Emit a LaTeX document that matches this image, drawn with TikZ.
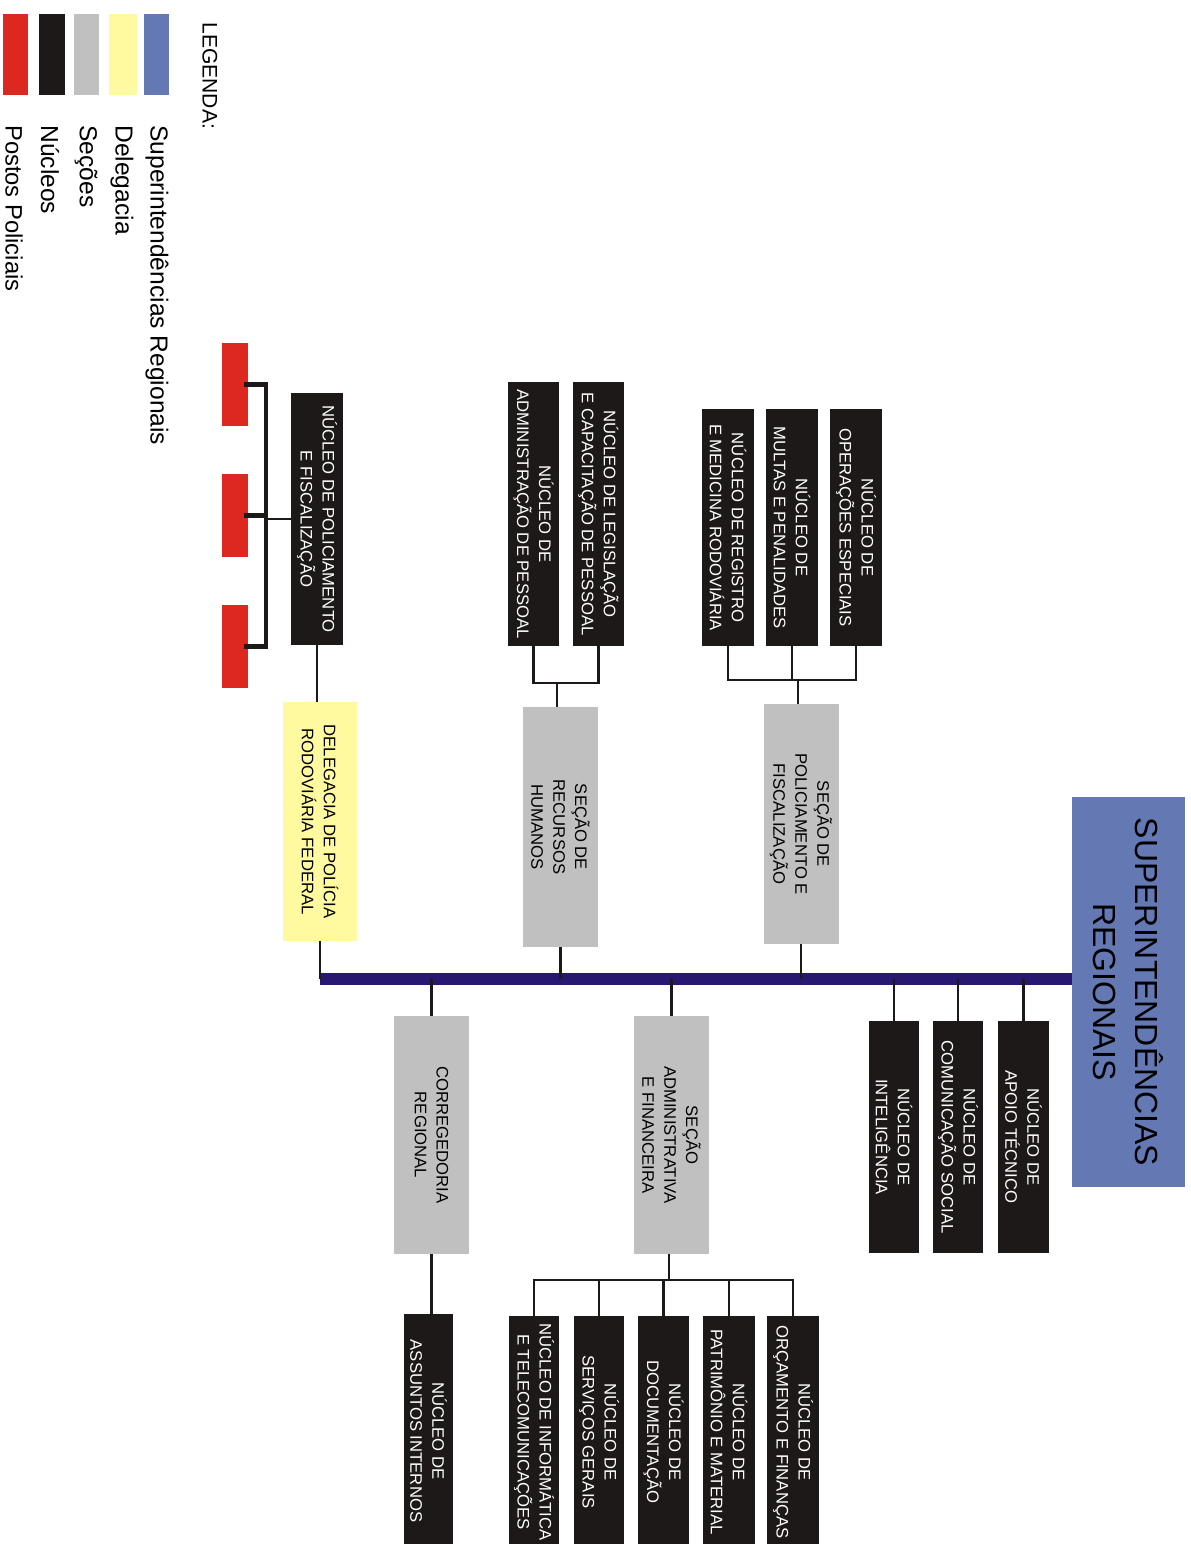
\documentclass[tikz,border=0pt]{standalone}
\usepackage{fontspec}
\setmainfont{Liberation Sans}
\usetikzlibrary{positioning}
\definecolor{supblue}{RGB}{100,121,180}
\definecolor{busnavy}{RGB}{40,24,112}
\definecolor{delyellow}{RGB}{255,250,160}
\definecolor{secgray}{RGB}{192,192,192}
\definecolor{nucblack}{RGB}{30,25,25}
\definecolor{postred}{RGB}{220,40,30}

\begin{document}
\begin{tikzpicture}[x=0.02cm,y=-0.02cm,
  box/.style={rotate=-90,align=center,inner sep=1pt,font=\fontsize{9.5}{12.5}\selectfont},
  nucleo/.style={box,fill=nucblack,text=white,minimum height=1.03cm},
  secao/.style={box,fill=secgray,minimum width=4.8cm,minimum height=1.5cm},
  posto/.style={fill=postred,inner sep=0,minimum width=0.52cm,minimum height=1.65cm},
  legtext/.style={rotate=-90,anchor=west,inner sep=0,font=\fontsize{14}{16}\selectfont},
  link/.style={nucblack,line width=1.2pt},
  bracket/.style={nucblack,line width=2.4pt},
  bus/.style={busnavy,line width=6.4pt}]
 \path[use as bounding box] (0,0) rectangle (1190,1544);
 \clip (0,0) rectangle (1190,1544);
 % legenda
 \fill[postred] (3,14) rectangle (28,95);
 \fill[nucblack] (39,14) rectangle (65,95);
 \fill[secgray] (74,14) rectangle (99,95);
 \fill[delyellow] (109,14) rectangle (137,95);
 \fill[supblue] (144,14) rectangle (169,95);
 \node[legtext,font=\fontsize{12}{14}\selectfont] (legenda) at (210,22) {LEGENDA:};
 \node[legtext] (lsup) at (157,125) {Superintendências Regionais};
 \node[legtext] (ldel) at (122,125) {Delegacia};
 \node[legtext] (lsec) at (86,125) {Seções};
 \node[legtext] (lnuc) at (50,125) {Núcleos};
 \node[legtext,font=\fontsize{13.5}{16}\selectfont] (lpos) at (14,125) {Postos Policiais};

 % superintendencia e barramento
 \node[box,fill=supblue,minimum width=7.8cm,minimum height=2.26cm,
   font=\fontsize{18.2}{24}\selectfont] (sup) at (1128.5,992) {SUPERINTENDÊNCIAS\\REGIONAIS};
 \coordinate (barL) at (320,979);
 \coordinate (barR) at (sup.south |- barL);
 \draw[bus] (barL) -- (barR);

 % acima do barramento
 \node[box,fill=delyellow,minimum width=4.78cm,minimum height=1.48cm] (deleg) at (320,821.5) {DELEGACIA DE POLÍCIA\\RODOVIÁRIA FEDERAL};
 \node[secao] (secrh) at (560.5,827) {SEÇÃO DE\\RECURSOS\\HUMANOS};
 \node[secao] (secpol) at (801,824) {SEÇÃO DE\\POLICIAMENTO E\\FISCALIZAÇÃO};
 \node[nucleo,minimum width=5.04cm] (nucpf) at (317,519) {NÚCLEO DE POLICIAMENTO\\E FISCALIZAÇÃO};
 \node[nucleo,minimum width=5.28cm] (nuclegis) at (598.5,514) {NÚCLEO DE LEGISLAÇÃO\\E CAPACITAÇÃO DE PESSOAL};
 \node[nucleo,minimum width=5.28cm] (nucadm) at (533.5,514) {NÚCLEO DE\\ADMINISTRAÇÃO DE PESSOAL};
 \node[nucleo,minimum width=4.74cm] (nucop) at (856,527.5) {NÚCLEO DE\\OPERAÇÕES ESPECIAIS};
 \node[nucleo,minimum width=4.74cm] (nucmul) at (792,527.5) {NÚCLEO DE\\MULTAS E PENALIDADES};
 \node[nucleo,minimum width=4.74cm] (nucreg) at (728,527.5) {NÚCLEO DE REGISTRO\\E MEDICINA RODOVIÁRIA};
 \node[posto] (posto1) at (235,384.5) {};
 \node[posto] (posto2) at (235,515.5) {};
 \node[posto] (posto3) at (235,646.5) {};

 % abaixo do barramento
 \node[nucleo,minimum width=4.64cm,minimum height=1cm] (nucint) at (894,1137) {NÚCLEO DE\\INTELIGÊNCIA};
 \node[nucleo,minimum width=4.64cm,minimum height=1cm] (nuccom) at (958,1137) {NÚCLEO DE\\COMUNICAÇÃO SOCIAL};
 \node[nucleo,minimum width=4.64cm] (nucapo) at (1023.5,1137) {NÚCLEO DE\\APOIO TÉCNICO};
 \node[secao,minimum width=4.76cm] (correg) at (431.5,1135) {CORREGEDORIA\\REGIONAL};
 \node[secao,minimum width=4.76cm] (secadm) at (671.5,1135) {SEÇÃO\\ADMINISTRATIVA\\E FINANCEIRA};
 \node[nucleo,minimum width=4.68cm,minimum height=0.98cm] (nucai) at (428.5,1431) {NÚCLEO DE\\ASSUNTOS INTERNOS};
 \node[nucleo,minimum width=4.64cm] (nucorc) at (793,1432) {NÚCLEO DE\\ORÇAMENTO E FINANÇAS};
 \node[nucleo,minimum width=4.64cm] (nucpat) at (729,1432) {NÚCLEO DE\\PATRIMÔNIO E MATERIAL};
 \node[nucleo,minimum width=4.64cm,minimum height=1.02cm] (nucdoc) at (663.5,1432) {NÚCLEO DE\\DOCUMENTAÇÃO};
 \node[nucleo,minimum width=4.64cm,minimum height=1cm] (nucser) at (599,1432) {NÚCLEO DE\\SERVIÇOS GERAIS};
 \node[nucleo,minimum width=4.64cm,minimum height=1cm] (nucinf) at (534,1432) {NÚCLEO DE INFORMÁTICA\\E TELECOMUNICAÇÕES};

 % ligacoes ao barramento
 \draw[link] (deleg.east) -- (deleg.east |- barL);
 \draw[link] (secrh.east) -- (secrh.east |- barL);
 \draw[link] (secpol.east) -- (secpol.east |- barL);
 \draw[link] (correg.west) -- (correg.west |- barL);
 \draw[link] (secadm.west) -- (secadm.west |- barL);
 \draw[link] (nucint.west) -- (nucint.west |- barL);
 \draw[link] (nuccom.west) -- (nuccom.west |- barL);
 \draw[link] (nucapo.west) -- (nucapo.west |- barL);

 % ligacoes das secoes
 \draw[link] (nucpf.east) -- (nucpf.east |- deleg.west);
 \coordinate (jrh) at (557,683);
 \draw[link] (nuclegis.east) -- (nuclegis.east |- jrh) -- (nucadm.east |- jrh) -- (nucadm.east);
 \draw[link] (jrh) -- (jrh |- secrh.west);
 \coordinate (jpol) at (798,680);
 \draw[link] (nucop.east) -- (nucop.east |- jpol) -- (nucreg.east |- jpol) -- (nucreg.east);
 \draw[link] (nucmul.east) -- (nucmul.east |- jpol);
 \draw[link] (jpol) -- (jpol |- secpol.west);
 \draw[link] (correg.east) -- (correg.east |- nucai.west);
 \coordinate (jadm) at (669,1280);
 \draw[link] (secadm.east -| jadm) -- (jadm);
 \draw[link] (nucorc.west) -- (nucorc.west |- jadm) -- (nucinf.west |- jadm) -- (nucinf.west);
 \draw[link] (nucpat.west) -- (nucpat.west |- jadm);
 \draw[link] (nucdoc.west) -- (nucdoc.west |- jadm);
 \draw[link] (nucser.west) -- (nucser.west |- jadm);

 % postos policiais
 \coordinate (brk) at (266,519);
 \draw[bracket] ([xshift=-0.08cm]posto1.east) -- (posto1.east -| brk) -- (posto3.east -| brk) -- ([xshift=-0.08cm]posto3.east);
 \draw[bracket] ([xshift=-0.08cm]posto2.east) -- (posto2.east -| brk);
 \draw[link] (brk) -- (nucpf.south);
\end{tikzpicture}
\end{document}
